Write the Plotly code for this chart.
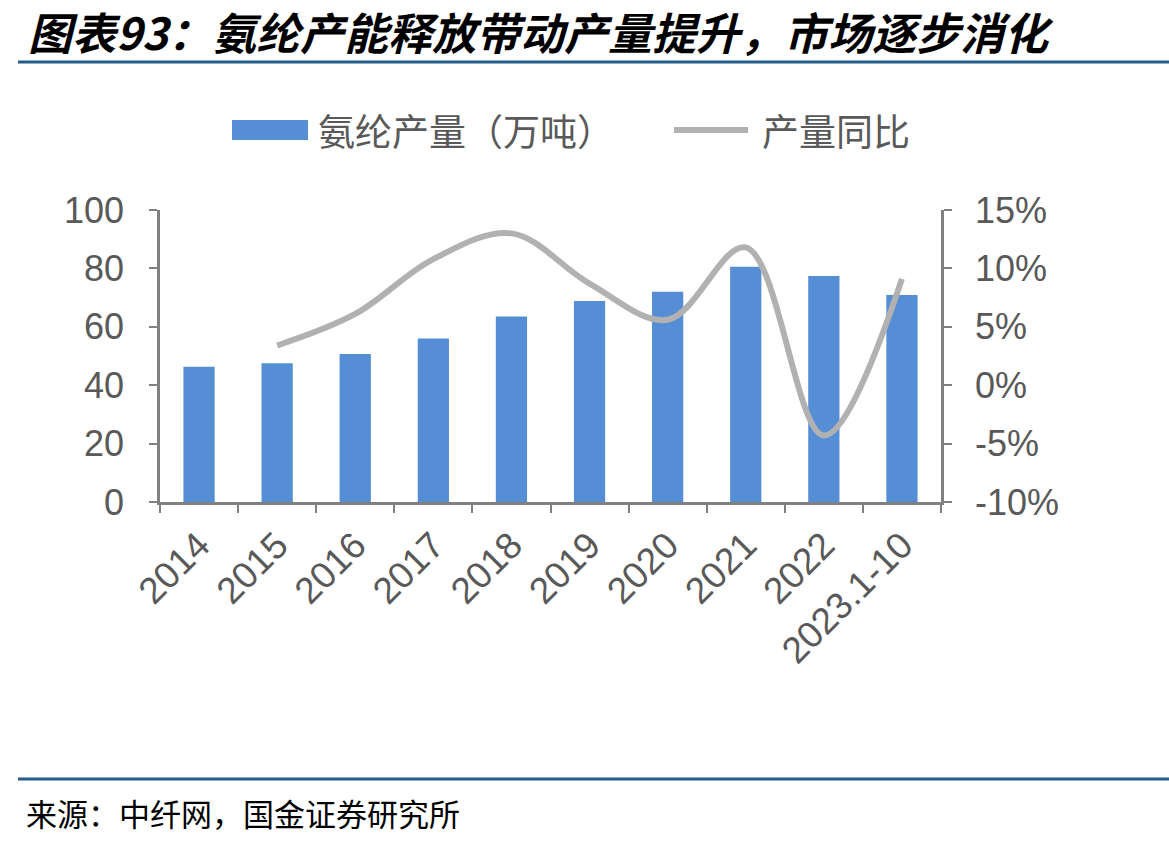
import plotly.graph_objects as go

categories = ["2014", "2015", "2016", "2017", "2018", "2019", "2020", "2021", "2022", "2023.1-10"]
output_wt = [46.3, 47.5, 50.7, 56.0, 63.5, 68.8, 72.0, 80.6, 77.4, 70.9]
yoy_categories = ["2015", "2016", "2017", "2018", "2019", "2020", "2021", "2022", "2023.1-10"]
yoy_pct = [3.4, 6.1, 10.8, 13.0, 8.7, 5.6, 11.8, -4.3, 9.1]
yoy_tick_vals = [-10, -5, 0, 5, 10, 15]
yoy_tick_text = ["-10%", "-5%", "0%", "5%", "10%", "15%"]

title_text = "图表93：氨纶产能释放带动产量提升，市场逐步消化"
source_text = "来源：中纤网，国金证券研究所"
bar_name = "氨纶产量（万吨）"
line_name = "产量同比"

W, H = 1169, 841
L, R, T, B = 160, 228, 210, 339
PW, PH = W - L - R, H - T - B

def px(x):
    return (x - L) / PW

def py(y):
    return (H - B - y) / PH

BAR_C = "#558ED5"
LINE_C = "#B1B1B1"
AX_C = "#808080"
TXT_C = "#595959"
RULE_C = "#245D8D"
FONT = "Liberation Sans, Arial, sans-serif"
CJK = "Noto Sans CJK SC, sans-serif"

fig = go.Figure()
fig.add_trace(go.Bar(x=categories, y=output_wt, name=bar_name, marker=dict(color=BAR_C, line=dict(width=0)), width=0.4))
fig.add_trace(go.Scatter(x=yoy_categories, y=yoy_pct, name=line_name, yaxis="y2", mode="lines",
                         line=dict(color=LINE_C, width=6, shape="spline", smoothing=1.0)))

def axis_common(size):
    return dict(showline=True, linecolor=AX_C, linewidth=2.5, ticks="outside", ticklen=8,
                tickwidth=2, tickcolor=AX_C, showgrid=False, zeroline=False,
                tickfont=dict(family=FONT, size=size, color=TXT_C))

fig.update_layout(
    width=W, height=H, margin=dict(l=L, r=R, t=T, b=B),
    paper_bgcolor="white", plot_bgcolor="white", showlegend=False,
    xaxis=dict(type="category", tickson="boundaries", tickangle=-45, ticklabelstandoff=4, **axis_common(37)),
    yaxis=dict(range=[0, 100], dtick=20, ticklabelstandoff=18, **axis_common(36)),
    yaxis2=dict(range=[-10, 15], tickvals=yoy_tick_vals, ticktext=yoy_tick_text, overlaying="y", side="right",
                ticklabelstandoff=16, **axis_common(36)),
    bargap=0.6,
)

shapes = [
    dict(type="line", xref="paper", yref="paper", x0=px(18), x1=px(1169), y0=py(62), y1=py(62),
         line=dict(color=RULE_C, width=3)),
    dict(type="line", xref="paper", yref="paper", x0=px(18), x1=px(1169), y0=py(779), y1=py(779),
         line=dict(color=RULE_C, width=3)),
    dict(type="rect", xref="paper", yref="paper", x0=px(232), x1=px(308), y0=py(140), y1=py(120),
         fillcolor=BAR_C, line=dict(width=0)),
    dict(type="line", xref="paper", yref="paper", x0=px(674), x1=px(748), y0=py(130), y1=py(130),
         line=dict(color=LINE_C, width=6)),
]
fig.update_layout(shapes=shapes)

annotations = [
    dict(text="<b><i>" + title_text + "</i></b>", x=px(26), y=py(31), xref="paper", yref="paper",
         xanchor="left", yanchor="middle", showarrow=False, font=dict(family=CJK, size=44, color="black")),
    dict(text=source_text, x=px(24), y=py(812), xref="paper", yref="paper",
         xanchor="left", yanchor="middle", showarrow=False, font=dict(family=CJK, size=31, color="black")),
    dict(text=bar_name, x=px(316), y=py(130), xref="paper", yref="paper",
         xanchor="left", yanchor="middle", showarrow=False, font=dict(family=CJK, size=37, color=TXT_C)),
    dict(text=line_name, x=px(760), y=py(130), xref="paper", yref="paper",
         xanchor="left", yanchor="middle", showarrow=False, font=dict(family=CJK, size=37, color=TXT_C)),
]
fig.update_layout(annotations=annotations)

fig.write_html("out.html")
